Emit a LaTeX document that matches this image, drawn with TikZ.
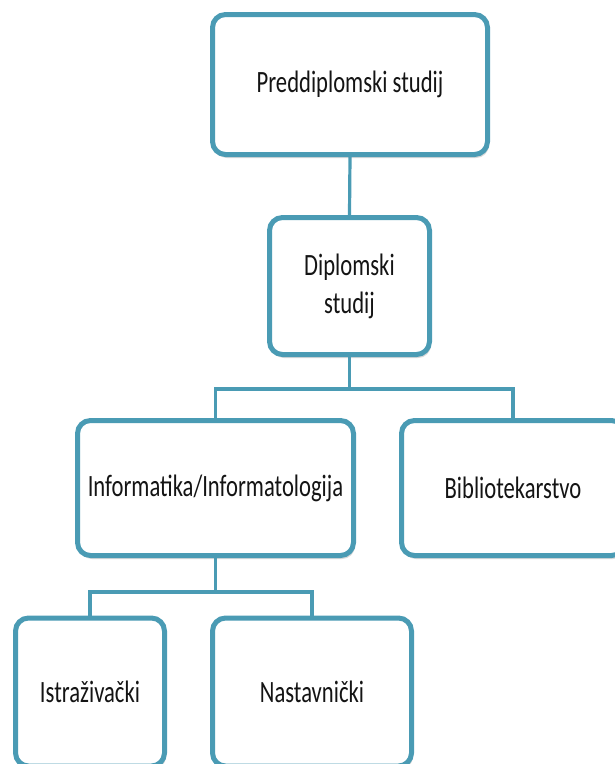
\documentclass[tikz,border=0pt]{standalone}
\usepackage{fontspec}
\setmainfont[FakeStretch=0.73]{Carlito}
\usetikzlibrary{shadows}
\definecolor{boxblue}{HTML}{4A9BB4}
\definecolor{txt}{HTML}{141414}
\tikzset{
  orgbox/.style={draw=boxblue, line width=5pt, rounded corners=13pt, fill=white,
    drop shadow={opacity=0.3, shadow xshift=1.5pt, shadow yshift=-3.5pt},
    text=txt, font=\fontsize{31}{38}\selectfont, align=center, inner sep=0pt},
  link/.style={draw=boxblue, line width=3.2pt}
}
\begin{document}
\begin{tikzpicture}[x=1pt,y=-1pt]
\useasboundingbox (0,0) rectangle (615,764);
\clip (0,0) rectangle (615,764);
\node[orgbox, minimum width=275, minimum height=140] (b1) at (350,84.5) {Preddiplomski studij};
\node[orgbox, minimum width=160, minimum height=137] (b2) at (349.5,286) {Diplomski\\studij};
\node[orgbox, minimum width=276, minimum height=135] (b3) at (215.5,488) {Informatika/Informatologija};
\node[orgbox, minimum width=223, minimum height=135] (b4) at (513,488) {Bibliotekarstvo};
\node[orgbox, minimum width=149, minimum height=148] (b5) at (90,692) {Istraživački};
\node[orgbox, minimum width=199, minimum height=148] (b6) at (312,692) {Nastavnički};
\coordinate (f1) at (349.5,389);
\coordinate (f2) at (215.5,592);
\draw[link] (b1.south) -- (b2.north);
\draw[link] (b2.south) -- (f1);
\draw[link] (f1) -| (b3.north);
\draw[link] (f1) -| (b4.north);
\draw[link] (b3.south) -- (f2);
\draw[link] (f2) -| (b5.north);
\draw[link] (f2) -| (b6.north);
\end{tikzpicture}
\end{document}
